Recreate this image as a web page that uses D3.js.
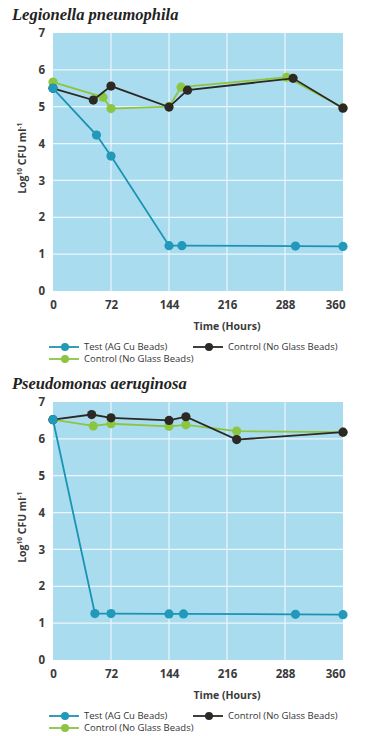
<!DOCTYPE html>
<html>
<head>
<meta charset="utf-8">
<script src="https://cdn.jsdelivr.net/npm/d3@7"></script>
<style>
  body { margin: 0; background: #ffffff; }
  svg { display: block; }
</style>
</head>
<body>
<svg id="chart" width="366" height="736"></svg>
<script>
//Data (hours, log10 CFU/ml)
const xTicks = [0, 72, 144, 216, 288, 360];
const yTicks = [0, 1, 2, 3, 4, 5, 6, 7];
const seriesNames = ["Test (AG Cu Beads)", "Control (No Glass Beads)", "Control (No Glass Beads)"];

const legionellaTest = [[0, 5.5], [54, 4.23], [72, 3.66], [144, 1.23], [160, 1.23], [301, 1.22], [360, 1.21]];
const legionellaGreen = [[0, 5.67], [62, 5.26], [72, 4.95], [144, 5.0], [159, 5.53], [290, 5.8], [360, 4.97]];
const legionellaBlack = [[0, 5.5], [50, 5.18], [72, 5.56], [144, 4.99], [167, 5.45], [298, 5.77], [360, 4.96]];

const pseudoTest = [[0, 6.52], [52, 1.26], [72, 1.26], [144, 1.25], [162, 1.25], [301, 1.24], [360, 1.23]];
const pseudoGreen = [[0, 6.52], [50, 6.35], [72, 6.41], [144, 6.34], [165, 6.38], [228, 6.21], [360, 6.18]];
const pseudoBlack = [[0, 6.52], [48, 6.66], [72, 6.57], [144, 6.5], [165, 6.6], [228, 5.98], [360, 6.18]];

//Colours
const blue = "#1b93b3";
const blueDot = "#2199b9";
const green = "#8cc540";
const black = "#2c2824";
const bg = "#aadcef";

//Measuring data (in px)
const left = 53;
const right = 343;
const plotH = 258;

const svg = d3.select("#chart");

function drawPanel(top, title, test, greenData, blackData) {
    const g = svg.append("g").attr("transform", `translate(0, ${top})`);

    const xScale = d3.scaleLinear().domain([0, 360]).range([left, right]);
    const yScale = d3.scaleLinear().domain([0, 7]).range([plotH + 13, 13]);

    //Title
    g.append("text")
        .attr("x", 12)
        .attr("y", 0)
        .attr("font-family", "Liberation Serif")
        .attr("font-weight", "bold")
        .attr("font-style", "italic")
        .attr("font-size", 16.5)
        .attr("fill", "#222")
        .text(title);

    //Plot background
    g.append("rect")
        .attr("x", left)
        .attr("y", yScale(7))
        .attr("width", right - left)
        .attr("height", yScale(0) - yScale(7))
        .attr("fill", bg);

    //Grid
    g.append("g").selectAll("line")
        .data(yTicks.filter(d => d > 0 && d < 7))
        .enter().append("line")
        .attr("x1", left).attr("x2", right)
        .attr("y1", d => yScale(d)).attr("y2", d => yScale(d))
        .attr("stroke", "#eaf6fb").attr("stroke-width", 1.2);
    g.append("g").selectAll("line")
        .data(xTicks.filter(d => d > 0 && d < 360))
        .enter().append("line")
        .attr("y1", yScale(0)).attr("y2", yScale(7))
        .attr("x1", d => xScale(d)).attr("x2", d => xScale(d))
        .attr("stroke", "#eaf6fb").attr("stroke-width", 1.2);

    //Axes
    const yAxis = g.append("g")
        .attr("transform", `translate(${left - 8}, 0)`)
        .call(d3.axisLeft(yScale).tickValues(yTicks).tickFormat(d3.format("d")).tickSize(0).tickPadding(0));
    const xAxis = g.append("g")
        .attr("transform", `translate(0, ${yScale(0) + 10})`)
        .call(d3.axisBottom(xScale).tickValues(xTicks).tickSize(0).tickPadding(0));
    [yAxis, xAxis].forEach(ax => {
        ax.select(".domain").remove();
        ax.selectAll("text")
            .attr("font-family", "Open Sans")
            .attr("font-weight", "bold")
            .attr("font-size", 11.5)
            .attr("fill", "#3a3a3a");
    });
    xAxis.selectAll(".tick").filter(d => d === 360).select("text")
        .attr("text-anchor", "end").attr("dx", 2);

    //Axis titles
    g.append("text")
        .attr("x", 227)
        .attr("y", yScale(0) + 39)
        .attr("text-anchor", "middle")
        .attr("font-family", "Open Sans")
        .attr("font-weight", "bold")
        .attr("font-size", 10.5)
        .attr("fill", "#3a3a3a")
        .text("Time (Hours)");

    const yt = g.append("text")
        .attr("transform", `translate(26, ${yScale(3.6)}) rotate(-90)`)
        .attr("text-anchor", "middle")
        .attr("font-family", "Open Sans")
        .attr("font-weight", "bold")
        .attr("font-size", 10.5)
        .attr("fill", "#3a3a3a");
    yt.append("tspan").text("Log");
    yt.append("tspan").attr("font-size", 6.5).attr("dy", -4).text("10");
    yt.append("tspan").attr("dy", 4).text(" CFU ml");
    yt.append("tspan").attr("font-size", 6.5).attr("dy", -4).text("-1");

    //Series
    const line = d3.line().x(d => xScale(d[0])).y(d => yScale(d[1]));
    const series = [
        { data: greenData, stroke: green, dot: green },
        { data: blackData, stroke: black, dot: black },
        { data: test, stroke: blue, dot: blueDot }
    ];
    series.forEach(s => {
        g.append("path")
            .datum(s.data)
            .attr("d", line)
            .attr("fill", "none")
            .attr("stroke", s.stroke)
            .attr("stroke-width", 1.8);
        g.append("g").selectAll("circle")
            .data(s.data)
            .enter().append("circle")
            .attr("cx", d => xScale(d[0]))
            .attr("cy", d => yScale(d[1]))
            .attr("r", 4.6)
            .attr("fill", s.dot);
    });

    //Legend
    const legendItems = [
        { name: seriesNames[0], color: blue, dot: blueDot, x: 49, y: yScale(0) + 56 },
        { name: seriesNames[1], color: black, dot: black, x: 193, y: yScale(0) + 56 },
        { name: seriesNames[2], color: green, dot: green, x: 49, y: yScale(0) + 68 }
    ];
    const legend = g.append("g").selectAll("g")
        .data(legendItems)
        .enter().append("g")
        .attr("transform", d => `translate(${d.x}, ${d.y})`);
    legend.append("line")
        .attr("x1", 0).attr("x2", 30)
        .attr("stroke", d => d.color).attr("stroke-width", 1.8);
    legend.append("circle")
        .attr("cx", 16).attr("r", 4)
        .attr("fill", d => d.dot);
    legend.append("text")
        .attr("x", 35)
        .attr("dy", "0.35em")
        .attr("font-family", "Open Sans")
        .attr("font-size", 9.5)
        .attr("fill", "#333")
        .text(d => d.name);
}

drawPanel(20, "Legionella pneumophila", legionellaTest, legionellaGreen, legionellaBlack);
drawPanel(389, "Pseudomonas aeruginosa", pseudoTest, pseudoGreen, pseudoBlack);
</script>
</body>
</html>
